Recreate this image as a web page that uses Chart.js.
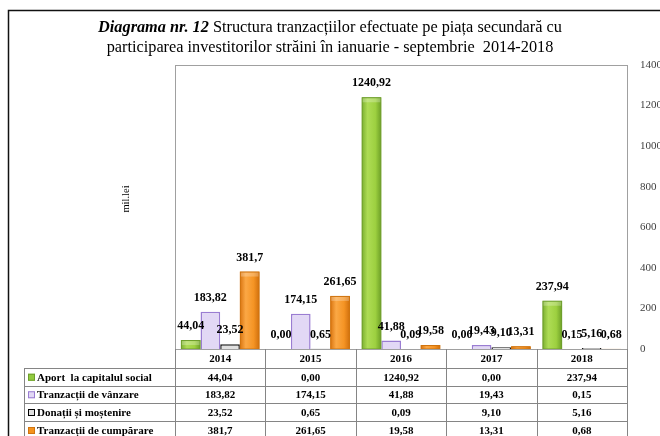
<!DOCTYPE html>
<html><head><meta charset="utf-8">
<script src="https://cdn.jsdelivr.net/npm/chart.js@4/dist/chart.umd.min.js"></script>
<style>html,body{margin:0;padding:0;background:#fff;overflow:hidden}#wrap{width:660px;height:436px;position:relative}</style>
</head><body><div id="wrap"><canvas id="c" width="660" height="436"></canvas></div>
<script>
// ---- data ----
const years = ['2014', '2015', '2016', '2017', '2018'];
const seriesNames = ['Aport  la capitalul social', 'Tranzacții de vânzare', 'Donații și moștenire', 'Tranzacții de cumpărare'];
const aport     = ['44,04', '0,00', '1240,92', '0,00', '237,94'];
const vanzare   = ['183,82', '174,15', '41,88', '19,43', '0,15'];
const donatii   = ['23,52', '0,65', '0,09', '9,10', '5,16'];
const cumparare = ['381,7', '261,65', '19,58', '13,31', '0,68'];
const yTicks = [0, 200, 400, 600, 800, 1000, 1200, 1400];
const titleBold = 'Diagrama nr. 12';
const titleRest = ' Structura tranzacțiilor efectuate pe piața secundară cu';
const titleLine2 = 'participarea investitorilor străini în ianuarie - septembrie  2014-2018';
const yAxisTitle = 'mil.lei';

const seriesText = [aport, vanzare, donatii, cumparare];
const toNum = s => parseFloat(s.replace(',', '.'));

const SERIF = '"Liberation Serif", "Times New Roman", serif';
const styles = [
  { bg: '#92CB3F', border: '#6E9E2C', bw: 1, grad: ['#7AAE30', '#AEDC55', '#9DD040', '#6C9E26'] },
  { bg: '#E2D8F5', border: '#9A7DD2', bw: 1.5, grad: null },
  { bg: '#E0E0E0', border: '#1A1A1A', bw: 1.5, grad: null },
  { bg: '#F5931E', border: '#D0740F', bw: 1, grad: ['#D9740F', '#FBA845', '#F59424', '#CF6E0C'] }
];

const decorPlugin = {
  id: 'decor',
  beforeDraw(chart) {
    const ctx = chart.ctx;
    ctx.save();
    ctx.fillStyle = '#fff';
    ctx.fillRect(0, 0, chart.width, chart.height);
    // outer frame
    ctx.strokeStyle = '#111';
    ctx.lineWidth = 1.5;
    ctx.beginPath();
    ctx.moveTo(8.5, chart.height + 5);
    ctx.lineTo(8.5, 10.5);
    ctx.lineTo(chart.width + 5, 10.5);
    ctx.stroke();
    // title
    ctx.fillStyle = '#000';
    ctx.textBaseline = 'middle';
    const fB = 'italic bold 16.3px ' + SERIF, fR = '16.3px ' + SERIF;
    ctx.font = fB; const wB = ctx.measureText(titleBold).width;
    ctx.font = fR; const wR = ctx.measureText(titleRest).width;
    const cx = 330;
    let x0 = cx - (wB + wR) / 2;
    ctx.textAlign = 'left';
    ctx.font = fB; ctx.fillText(titleBold, x0, 28);
    ctx.font = fR; ctx.fillText(titleRest, x0 + wB, 28);
    ctx.textAlign = 'center';
    ctx.fillText(titleLine2, cx, 48);
    // y axis title
    ctx.save();
    ctx.translate(126, 199);
    ctx.rotate(-Math.PI / 2);
    ctx.font = '10.5px ' + SERIF;
    ctx.fillStyle = '#000';
    ctx.fillText(yAxisTitle, 0, 0);
    ctx.restore();
    ctx.restore();
  },
  afterDatasetsDraw(chart) {
    const ctx = chart.ctx;
    const ca = chart.chartArea;
    ctx.save();
    // gradient overlay for shaded bars
    chart.data.datasets.forEach((ds, di) => {
      const st = styles[di];
      if (!st.grad) return;
      chart.getDatasetMeta(di).data.forEach(el => {
        const l = el.x - el.width / 2, r = el.x + el.width / 2;
        const h = el.base - el.y;
        if (h < 1) return;
        const g = ctx.createLinearGradient(l, 0, r, 0);
        g.addColorStop(0, st.grad[0]);
        g.addColorStop(0.3, st.grad[1]);
        g.addColorStop(0.7, st.grad[2]);
        g.addColorStop(1, st.grad[3]);
        ctx.fillStyle = g;
        ctx.fillRect(l + 0.5, el.y + 0.5, el.width - 1, h - 0.5);
        ctx.strokeStyle = st.border;
        ctx.lineWidth = 1;
        ctx.strokeRect(l + 0.5, el.y + 0.5, el.width - 1, h - 0.5);
        if (h > 4) {
          ctx.fillStyle = 'rgba(255,255,255,0.25)';
          ctx.fillRect(l + 1, el.y + 1, el.width - 2, Math.min(4, h - 1));
        }
      });
    });
    // plot border
    ctx.strokeStyle = '#A0A0A0';
    ctx.lineWidth = 1;
    ctx.strokeRect(Math.round(ca.left) + 0.5, Math.round(ca.top) + 0.5, Math.round(ca.width), Math.round(ca.height));
    // value labels
    ctx.fillStyle = '#000';
    ctx.font = 'bold 12px ' + SERIF;
    ctx.textAlign = 'center';
    ctx.textBaseline = 'middle';
    chart.data.datasets.forEach((ds, di) => {
      chart.getDatasetMeta(di).data.forEach((el, i) => {
        ctx.fillText(seriesText[di][i], el.x, el.y - 14);
      });
    });
    // data table
    const n = years.length;
    const cw = ca.width / n;
    const top = ca.bottom;
    const rowY = [top, top + 19, top + 36.5, top + 54, top + 72, top + 90];
    const labL = 24, right = ca.right;
    ctx.strokeStyle = '#858585';
    ctx.lineWidth = 1;
    ctx.beginPath();
    for (let r = 1; r < rowY.length; r++) {
      const yy = Math.round(rowY[r]) + 0.5;
      ctx.moveTo(labL, yy); ctx.lineTo(right + 1, yy);
    }
    ctx.moveTo(labL + 0.5, Math.round(rowY[1])); ctx.lineTo(labL + 0.5, chart.height);
    for (let c = 0; c <= n; c++) {
      const xx = Math.round(ca.left + c * cw) + 0.5;
      ctx.moveTo(xx, top); ctx.lineTo(xx, chart.height);
    }
    ctx.stroke();
    ctx.font = 'bold 11px ' + SERIF;
    ctx.fillStyle = '#000';
    ctx.textAlign = 'center';
    const xs = chart.scales.x;
    years.forEach((yr, i) => {
      ctx.fillText(yr, xs.getPixelForValue(i), (rowY[0] + rowY[1]) / 2 + 1);
    });
    seriesNames.forEach((nm, r) => {
      const yc = (rowY[r + 1] + rowY[r + 2]) / 2 + 1;
      const st = styles[r];
      ctx.fillStyle = st.bg;
      ctx.fillRect(28, yc - 4, 7, 7);
      ctx.strokeStyle = r === 2 ? '#000' : st.border;
      ctx.lineWidth = 1;
      ctx.strokeRect(28.5, yc - 3.5, 6, 6);
      ctx.fillStyle = '#000';
      ctx.textAlign = 'left';
      ctx.fillText(nm, 37, yc);
      ctx.textAlign = 'center';
      seriesText[r].forEach((v, i) => ctx.fillText(v, xs.getPixelForValue(i), yc));
    });
    ctx.restore();
  }
};

new Chart(document.getElementById('c'), {
  type: 'bar',
  data: {
    labels: years,
    datasets: seriesText.map((arr, di) => ({
      label: seriesNames[di],
      data: arr.map(toNum),
      backgroundColor: styles[di].bg,
      borderColor: styles[di].border,
      borderWidth: styles[di].bw,
      categoryPercentage: 0.87,
      barPercentage: 1.0
    }))
  },
  options: {
    responsive: false,
    animation: false,
    devicePixelRatio: 1,
    layout: { padding: { left: 175, top: 65, right: 0, bottom: 87 } },
    plugins: { legend: { display: false }, tooltip: { enabled: false }, title: { display: false } },
    scales: {
      x: { display: false },
      y: {
        position: 'right',
        min: 0, max: 1400,
        afterBuildTicks: s => { s.ticks = yTicks.map(v => ({ value: v })); },
        afterFit: s => { s.width = 33; },
        grid: { display: false, drawTicks: false },
        border: { display: false },
        ticks: {
          padding: 13, color: '#404040', font: { family: SERIF, size: 11 },
          callback: v => String(v)
        }
      }
    }
  },
  plugins: [decorPlugin]
});
</script>
</body></html>
